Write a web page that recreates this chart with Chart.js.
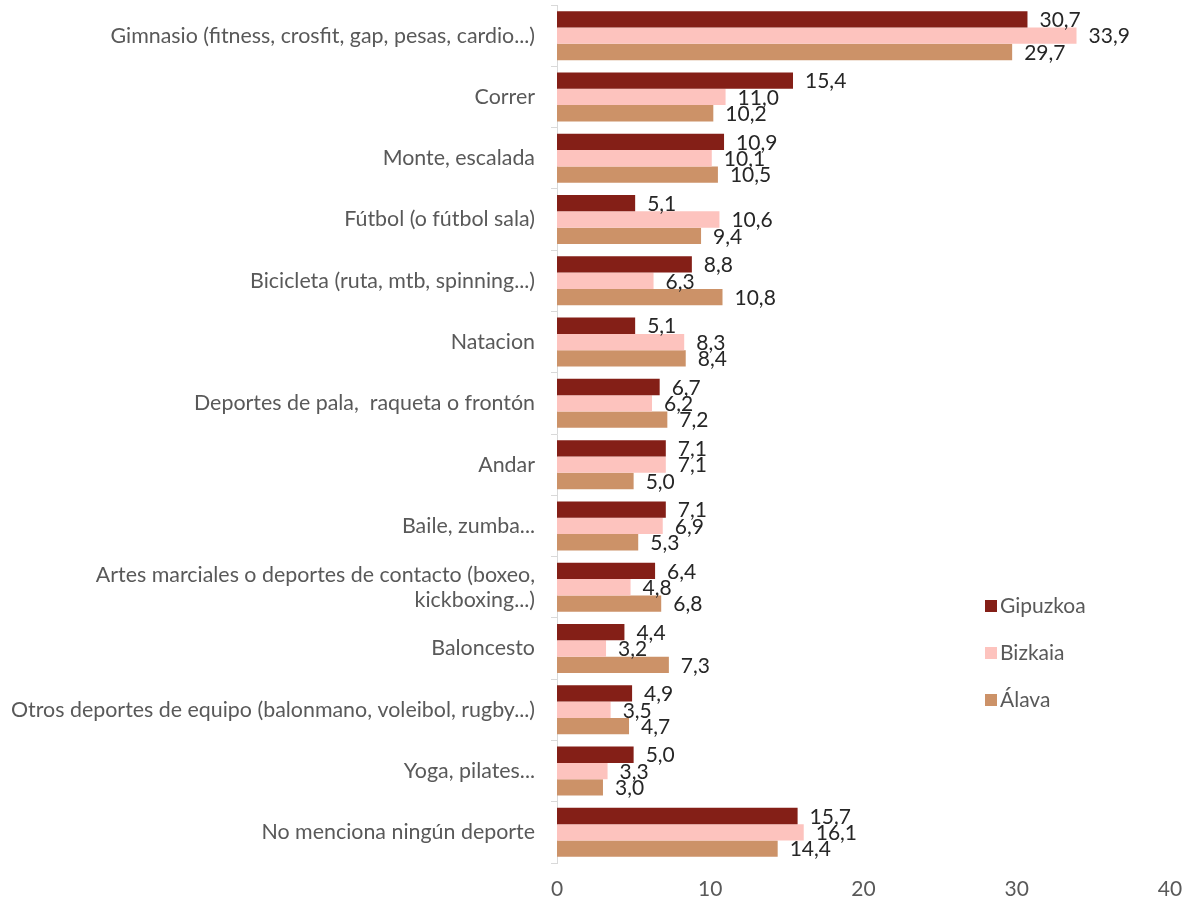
<!DOCTYPE html>
<html>
<head>
<meta charset="utf-8">
<script src="https://cdn.jsdelivr.net/npm/chart.js@4.4.1/dist/chart.umd.min.js"></script>
<style>
html,body{margin:0;padding:0;background:#fff;}
#wrap{width:1183px;height:901px;position:relative;}
</style>
</head>
<body>
<div id="wrap"><canvas id="c" width="1183" height="901"></canvas></div>
<script>
const categories = [
  "Gimnasio (fitness, crosfit, gap, pesas, cardio...)",
  "Correr",
  "Monte, escalada",
  "Fútbol (o fútbol sala)",
  "Bicicleta (ruta, mtb, spinning...)",
  "Natacion",
  "Deportes de pala,  raqueta o frontón",
  "Andar",
  "Baile, zumba...",
  ["Artes marciales o deportes de contacto (boxeo,", "kickboxing...)"],
  "Baloncesto",
  "Otros deportes de equipo (balonmano, voleibol, rugby...)",
  "Yoga, pilates...",
  "No menciona ningún deporte"
];
const seriesNames = ["Gipuzkoa", "Bizkaia", "Álava"];
const gipuzkoa = [30.7, 15.4, 10.9, 5.1, 8.8, 5.1, 6.7, 7.1, 7.1, 6.4, 4.4, 4.9, 5.0, 15.7];
const bizkaia  = [33.9, 11.0, 10.1, 10.6, 6.3, 8.3, 6.2, 7.1, 6.9, 4.8, 3.2, 3.5, 3.3, 16.1];
const alava    = [29.7, 10.2, 10.5, 9.4, 10.8, 8.4, 7.2, 5.0, 5.3, 6.8, 7.3, 4.7, 3.0, 14.4];
const xTicks = [0, 10, 20, 30, 40];

const colors = ["#841F17", "#FDC3BE", "#CC9268"];
const FONT = "Lato, 'Open Sans', sans-serif";
const FS = 21;
const CAT_FS = 21.4;

const labelPlugin = {
  id: 'valLabels',
  afterDatasetsDraw(chart) {
    const ctx = chart.ctx;
    ctx.save();
    ctx.font = FS + "px " + FONT;
    ctx.fillStyle = "#262626";
    ctx.textAlign = "left";
    ctx.textBaseline = "middle";
    chart.data.datasets.forEach((ds, di) => {
      const meta = chart.getDatasetMeta(di);
      meta.data.forEach((bar, i) => {
        const v = ds.data[i];
        ctx.fillText(v.toFixed(1).replace('.', ','), bar.x + 12, bar.y + 1);
      });
    });
    ctx.restore();
  }
};

const legendPlugin = {
  id: 'customLegend',
  afterDraw(chart) {
    const ctx = chart.ctx;
    ctx.save();
    ctx.font = FS + "px " + FONT;
    ctx.textBaseline = "middle";
    ctx.textAlign = "left";
    const x = 985, y0 = 606, dy = 47;
    chart.data.datasets.forEach((ds, i) => {
      const y = y0 + i * dy;
      ctx.fillStyle = ds.backgroundColor;
      ctx.fillRect(x, y - 6, 12, 12);
      ctx.fillStyle = "#595959";
      ctx.fillText(ds.label, x + 15, y);
    });
    ctx.restore();
  }
};

new Chart(document.getElementById('c'), {
  type: 'bar',
  data: {
    labels: categories,
    datasets: [
      { label: seriesNames[0], data: gipuzkoa, backgroundColor: colors[0] },
      { label: seriesNames[1], data: bizkaia, backgroundColor: colors[1] },
      { label: seriesNames[2], data: alava, backgroundColor: colors[2] }
    ]
  },
  options: {
    indexAxis: 'y',
    responsive: false,
    animation: false,
    devicePixelRatio: 1,
    layout: { padding: { top: 5, right: 13, left: 0, bottom: 0 } },
    datasets: { bar: { categoryPercentage: 0.8, barPercentage: 1.0, borderWidth: 0 } },
    plugins: { legend: { display: false }, tooltip: { enabled: false } },
    scales: {
      x: {
        min: 0, max: 40,
        afterBuildTicks(scale) { scale.ticks = xTicks.map(v => ({ value: v })); },
        afterFit(scale) { scale.height = 38; scale.paddingLeft = 0; scale.paddingRight = 0; },
        grid: { display: false },
        border: { display: false },
        ticks: { color: "#595959", font: { family: FONT, size: FS }, padding: 6, maxRotation: 0 }
      },
      y: {
        afterFit(scale) { scale.width = 557; scale.paddingTop = 0; scale.paddingBottom = 0; },
        grid: { drawOnChartArea: false, drawTicks: true, tickLength: 6, color: "#D9D9D9", offset: true },
        border: { display: true, color: "#D9D9D9", width: 1 },
        ticks: { color: "#595959", font: { family: FONT, size: CAT_FS, lineHeight: 1.17 }, padding: 16, autoSkip: false }
      }
    }
  },
  plugins: [labelPlugin, legendPlugin]
});
</script>
</body>
</html>
